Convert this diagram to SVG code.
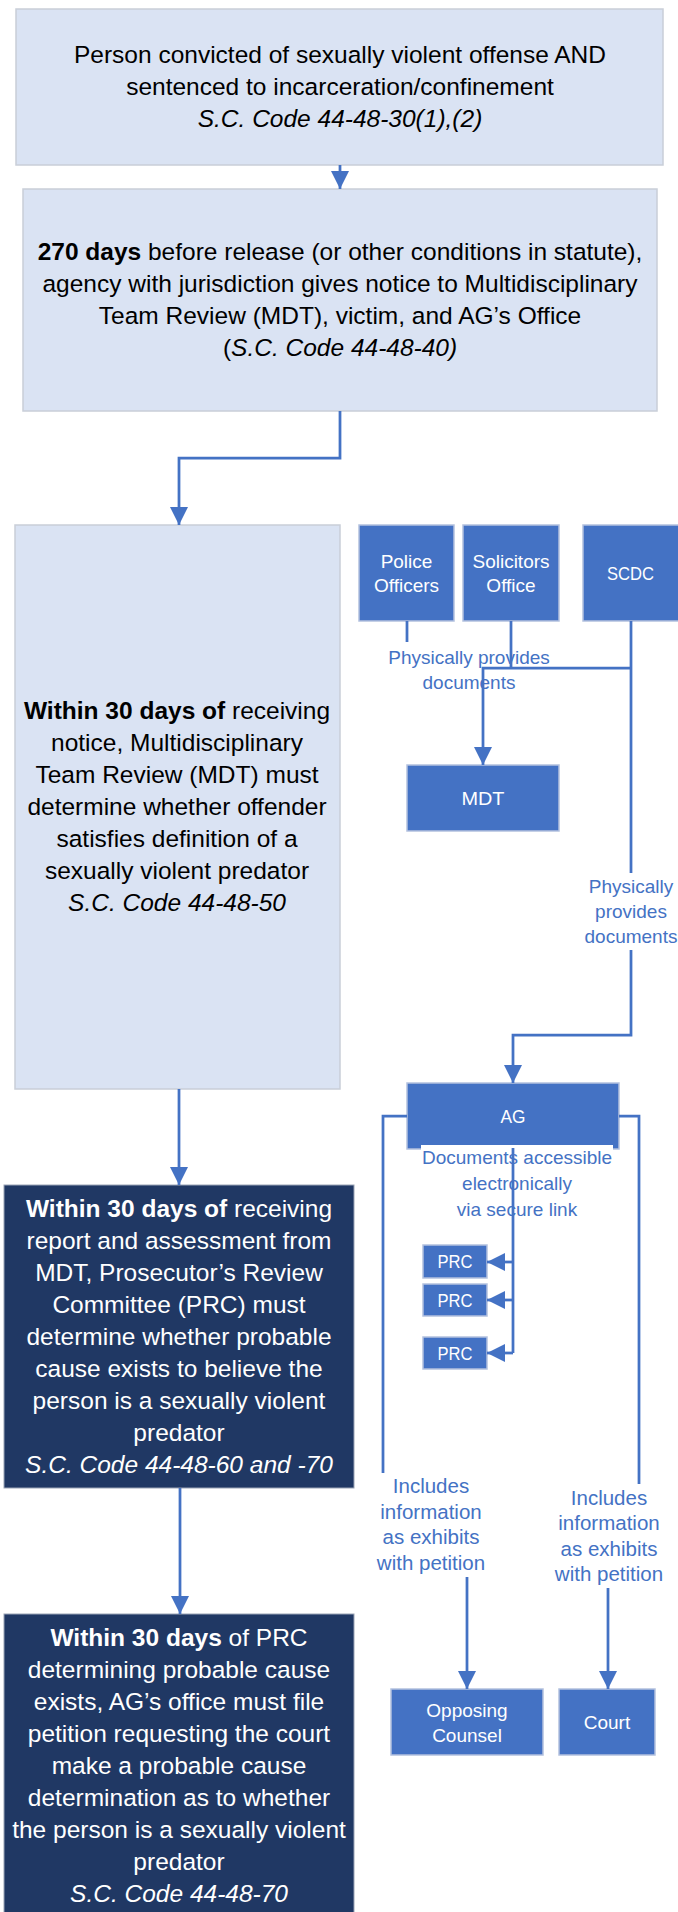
<svg xmlns="http://www.w3.org/2000/svg" width="678" height="1912" viewBox="0 0 678 1912">
<style>
.lt{fill:#DAE3F3;stroke:#C9CED8;stroke-width:1.5}
.dk{fill:#203864;stroke:#9AA3B5;stroke-width:1}
.bl{fill:#4472C4;stroke:#B3C1DE;stroke-width:1.5}
.t{font-family:"Liberation Sans",Arial,sans-serif;font-size:24.5px;text-anchor:middle;fill:#000}
.w{fill:#fff}
.s{font-family:"Liberation Sans",Arial,sans-serif;font-size:19px;text-anchor:middle;fill:#fff}
.lbl{font-family:"Liberation Sans",Arial,sans-serif;font-size:19px;text-anchor:middle;fill:#4472C4}
.lbl2{font-family:"Liberation Sans",Arial,sans-serif;font-size:20.5px;text-anchor:middle;fill:#4472C4}
.b{font-weight:bold}
.i{font-style:italic}
.con{stroke:#4472C4;stroke-width:2.75;fill:none}
</style>
<defs>
<marker id="ah" markerUnits="userSpaceOnUse" markerWidth="18" markerHeight="18" refX="18" refY="9" orient="auto" viewBox="0 0 18 18">
<path d="M0,0 L18,9 L0,18 z" fill="#4472C4"/>
</marker>
</defs>

<g id="box1">
<rect class="lt" x="16" y="9" width="647" height="156"/>
<text class="t" x="340" y="63">Person convicted of sexually violent offense AND</text>
<text class="t" x="340" y="95">sentenced to incarceration/confinement</text>
<text class="t i" x="340" y="127">S.C. Code 44-48-30(1),(2)</text>
</g>

<g id="box2">
<rect class="lt" x="23" y="189" width="634" height="222"/>
<text class="t" x="340" y="260"><tspan class="b">270 days</tspan> before release (or other conditions in statute),</text>
<text class="t" x="340" y="292">agency with jurisdiction gives notice to Multidisciplinary</text>
<text class="t" x="340" y="324">Team Review (MDT), victim, and AG’s Office</text>
<text class="t" x="340" y="356">(<tspan class="i">S.C. Code 44-48-40)</tspan></text>
</g>

<g id="box3">
<rect class="lt" x="15" y="525" width="325" height="564"/>
<text class="t" x="177" y="719"><tspan class="b">Within 30 days of</tspan> receiving</text>
<text class="t" x="177" y="751">notice, Multidisciplinary</text>
<text class="t" x="177" y="783">Team Review (MDT) must</text>
<text class="t" x="177" y="815">determine whether offender</text>
<text class="t" x="177" y="847">satisfies definition of a</text>
<text class="t" x="177" y="879">sexually violent predator</text>
<text class="t i" x="177" y="911">S.C. Code 44-48-50</text>
</g>

<g id="police">
<rect class="bl" x="359" y="525" width="95" height="96"/>
<text class="s" x="406.5" y="568">Police</text>
<text class="s" x="406.5" y="592">Officers</text>
</g>
<g id="solicitors">
<rect class="bl" x="463" y="525" width="96" height="96"/>
<text class="s" x="511" y="568">Solicitors</text>
<text class="s" x="511" y="592">Office</text>
</g>
<g id="scdc">
<rect class="bl" x="583" y="525" width="100" height="96"/>
<text class="s" x="630.5" y="580" textLength="47" lengthAdjust="spacingAndGlyphs">SCDC</text>
</g>
<g id="mdt">
<rect class="bl" x="407" y="765" width="152" height="66"/>
<text class="s" x="483" y="805" textLength="43" lengthAdjust="spacingAndGlyphs">MDT</text>
</g>

<g id="ag">
<rect class="bl" x="407" y="1083" width="212" height="66"/>
<text class="s" x="513" y="1123" textLength="25" lengthAdjust="spacingAndGlyphs">AG</text>
<rect x="421" y="1145" width="192" height="80" fill="#fff"/>
</g>

<g id="prc1">
<rect class="bl" x="423" y="1245" width="64" height="33"/>
<text class="s" x="455" y="1268" textLength="35" lengthAdjust="spacingAndGlyphs">PRC</text>
</g>
<g id="prc2">
<rect class="bl" x="423" y="1284" width="64" height="32"/>
<text class="s" x="455" y="1307" textLength="35" lengthAdjust="spacingAndGlyphs">PRC</text>
</g>
<g id="prc3">
<rect class="bl" x="423" y="1337" width="64" height="32"/>
<text class="s" x="455" y="1360" textLength="35" lengthAdjust="spacingAndGlyphs">PRC</text>
</g>

<g id="box4">
<rect class="dk" x="4" y="1185" width="350" height="303"/>
<text class="t w" x="179" y="1217"><tspan class="b">Within 30 days of</tspan> receiving</text>
<text class="t w" x="179" y="1249">report and assessment from</text>
<text class="t w" x="179" y="1281">MDT, Prosecutor’s Review</text>
<text class="t w" x="179" y="1313">Committee (PRC) must</text>
<text class="t w" x="179" y="1345">determine whether probable</text>
<text class="t w" x="179" y="1377">cause exists to believe the</text>
<text class="t w" x="179" y="1409">person is a sexually violent</text>
<text class="t w" x="179" y="1441">predator</text>
<text class="t w i" x="179" y="1473">S.C. Code 44-48-60 and -70</text>
</g>

<g id="box5">
<rect class="dk" x="4" y="1614" width="350" height="302"/>
<text class="t w" x="179" y="1646"><tspan class="b">Within 30 days</tspan> of PRC</text>
<text class="t w" x="179" y="1678">determining probable cause</text>
<text class="t w" x="179" y="1710">exists, AG’s office must file</text>
<text class="t w" x="179" y="1742">petition requesting the court</text>
<text class="t w" x="179" y="1774">make a probable cause</text>
<text class="t w" x="179" y="1806">determination as to whether</text>
<text class="t w" x="179" y="1838">the person is a sexually violent</text>
<text class="t w" x="179" y="1870">predator</text>
<text class="t w i" x="179" y="1902">S.C. Code 44-48-70</text>
</g>

<g id="opposing">
<rect class="bl" x="391" y="1689" width="152" height="66"/>
<text class="s" x="467" y="1717">Opposing</text>
<text class="s" x="467" y="1742">Counsel</text>
</g>
<g id="court">
<rect class="bl" x="559" y="1689" width="96" height="66"/>
<text class="s" x="607" y="1729">Court</text>
</g>

<g id="connectors">
<path class="con" d="M340,165 V189" marker-end="url(#ah)"/>
<path class="con" d="M340,411 V458 H179 V525" marker-end="url(#ah)"/>
<path class="con" d="M179,1089 V1185" marker-end="url(#ah)"/>
<path class="con" d="M180,1488 V1614" marker-end="url(#ah)"/>
<path class="con" d="M407,621 V642"/>
<path class="con" d="M511,621 V668"/>
<path class="con" d="M631,621 V873"/>
<path class="con" d="M631,668 H483 V765" marker-end="url(#ah)"/>
<path class="con" d="M631,950 V1035 H513 V1083" marker-end="url(#ah)"/>
<path class="con" d="M407,1116 H383 V1473"/>
<path class="con" d="M619,1116 H639 V1484"/>
<path class="con" d="M467,1577 V1689" marker-end="url(#ah)"/>
<path class="con" d="M608,1588 V1689" marker-end="url(#ah)"/>
<path class="con" d="M513,1148 V1353"/>
<path class="con" d="M513,1262 H487" marker-end="url(#ah)"/>
<path class="con" d="M513,1300 H487" marker-end="url(#ah)"/>
<path class="con" d="M513,1353 H487" marker-end="url(#ah)"/>
</g>

<g id="labels">
<text class="lbl" x="469" y="664">Physically provides</text>
<text class="lbl" x="469" y="689">documents</text>
<text class="lbl" x="631" y="893">Physically</text>
<text class="lbl" x="631" y="918">provides</text>
<text class="lbl" x="631" y="943">documents</text>
<text class="lbl" x="517" y="1164">Documents accessible</text>
<text class="lbl" x="517" y="1190">electronically</text>
<text class="lbl" x="517" y="1216">via secure link</text>
<text class="lbl2" x="431" y="1493">Includes</text>
<text class="lbl2" x="431" y="1519">information</text>
<text class="lbl2" x="431" y="1544">as exhibits</text>
<text class="lbl2" x="431" y="1570">with petition</text>
<text class="lbl2" x="609" y="1505">Includes</text>
<text class="lbl2" x="609" y="1530">information</text>
<text class="lbl2" x="609" y="1556">as exhibits</text>
<text class="lbl2" x="609" y="1581">with petition</text>
</g>
</svg>
